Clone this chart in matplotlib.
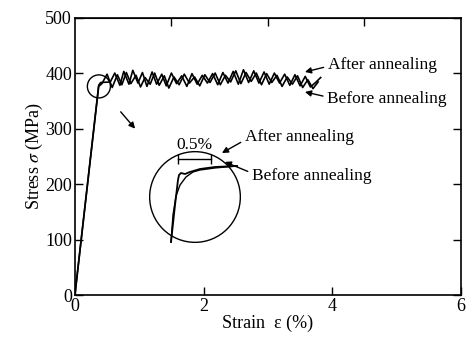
import numpy as np
import matplotlib
matplotlib.use("Agg")
import matplotlib.pyplot as plt
from matplotlib.patches import Ellipse, Circle

plt.rcParams['font.family'] = ['Liberation Serif', 'DejaVu Serif']
plt.rcParams['mathtext.fontset'] = 'stix'

# stress-strain curves (strain %, stress MPa)
after_strain = [0, 0.37, 0.40, 0.55, 0.62, 0.70, 0.76, 0.84, 0.90, 0.98, 1.05, 1.12, 1.20, 1.27,
                1.35, 1.42, 1.50, 1.58, 1.66, 1.74, 1.82, 1.90, 1.98, 2.06, 2.14, 2.22, 2.30, 2.38,
                2.46, 2.54, 2.62, 2.70, 2.78, 2.86, 2.94, 3.02, 3.10, 3.18, 3.26, 3.34, 3.42, 3.50,
                3.58, 3.66, 3.74, 3.82]
after_stress = [0, 378, 383, 384, 400, 378, 403, 380, 405, 382, 401, 376, 402, 380,
                398, 377, 400, 381, 395, 376, 399, 380, 396, 382, 399, 379, 401, 382,
                403, 380, 406, 383, 404, 382, 402, 380, 400, 382, 398, 378, 397, 377,
                394, 375, 383, 392]

before_strain = [0, 0.37, 0.42, 0.50, 0.58, 0.66, 0.73, 0.80, 0.87, 0.95, 1.02, 1.09, 1.17, 1.24,
                 1.31, 1.39, 1.46, 1.54, 1.62, 1.70, 1.78, 1.86, 1.94, 2.02, 2.10, 2.18, 2.26, 2.34,
                 2.42, 2.50, 2.58, 2.66, 2.74, 2.82, 2.90, 2.98, 3.06, 3.14, 3.22, 3.30, 3.38, 3.46,
                 3.54, 3.62, 3.70, 3.78]
before_stress = [0, 376, 381, 398, 374, 397, 379, 401, 381, 396, 375, 392, 380, 400,
                 378, 395, 373, 393, 379, 398, 382, 393, 377, 397, 383, 400, 379, 396,
                 384, 404, 381, 401, 385, 400, 379, 399, 383, 396, 376, 393, 380, 395,
                 374, 388, 372, 384]

# magnified yield region (inset units)
in_after_x = [0.335, 0.396, 0.441, 0.457, 0.487, 0.548, 0.624, 0.776, 1.005, 1.339]
in_after_y = [0.015, 0.578, 0.959, 1.035, 1.065, 1.050, 1.081, 1.126, 1.157, 1.172]
in_before_x = [0.335, 0.365, 0.411, 0.472, 0.563, 0.670, 0.776, 1.005, 1.339]
in_before_y = [0.015, 0.426, 0.715, 0.883, 1.005, 1.081, 1.111, 1.142, 1.172]

fig = plt.figure(figsize=(4.68, 3.38), dpi=100)
ax = fig.add_axes([0.160, 0.127, 0.825, 0.821])

ax.plot(after_strain, after_stress, color='black', lw=1.2)
ax.plot(before_strain, before_stress, color='black', lw=1.2)

ax.set_xlim(0, 6)
ax.set_ylim(0, 500)
ax.set_xticks([0, 2, 4, 6])
ax.set_yticks([0, 100, 200, 300, 400, 500])
ax.tick_params(direction='in', length=6, width=1.0, labelsize=13, pad=2,
               right=True)
for s in ax.spines.values():
    s.set_linewidth(1.2)

top = ax.secondary_xaxis('top')
top.set_xticks([1.5, 3, 4.5])
top.set_xticklabels([])
top.tick_params(direction='in', length=6, width=1.0)

ax.set_xlabel("Strain  ε (%)", fontsize=13, labelpad=0)
ax.set_ylabel(r"Stress $\sigma$ (MPa)", fontsize=13, labelpad=0)

# small circle around yield point and arrow to magnified view
ax.add_patch(Ellipse((0.373, 376), 0.358, 41.5, fill=False, lw=1.0, color='black'))
ax.annotate("", xy=(0.964, 296), xytext=(0.684, 334),
            arrowprops=dict(arrowstyle='-|>', color='black', lw=1.0, mutation_scale=9))

arr = dict(arrowstyle='-|>', color='black', lw=1.0, mutation_scale=9, shrinkA=1, shrinkB=0)
ax.annotate("After annealing", xy=(3.575, 402), xytext=(3.93, 415), fontsize=12.5,
            va='center', ha='left', arrowprops=dict(arr, relpos=(0, 0.4)))
ax.annotate("Before annealing", xy=(3.575, 366), xytext=(3.92, 354), fontsize=12.5,
            va='center', ha='left', arrowprops=dict(arr, relpos=(0, 0.6)))

ax.annotate("After annealing", xy=(2.285, 256), xytext=(2.64, 285), fontsize=12.5,
            va='center', ha='left', arrowprops=dict(arr, relpos=(0, 0.3)))
ax.annotate("Before annealing", xy=(2.33, 240), xytext=(2.75, 214), fontsize=12.5,
            va='center', ha='left', arrowprops=dict(arr, relpos=(0, 0.7)))

# scale bar
ax.plot([1.60, 2.11], [245.5, 245.5], color='black', lw=1.0, marker='|', markersize=7)
ax.text(1.865, 271, "0.5%", fontsize=12.5, ha='center', va='center')

# inset with magnified curves
ins = fig.add_axes([149 / 468, (338 - 243) / 338, 92 / 468, 92 / 338])
ins.set_xlim(0, 1.4)
ins.set_ylim(0, 1.4)
ins.axis('off')
ins.add_patch(Circle((0.7, 0.7), 0.69, fill=False, lw=1.0, color='black'))
ins.plot(in_after_x, in_after_y, color='black', lw=1.3)
ins.plot(in_before_x, in_before_y, color='black', lw=1.0)

fig.savefig("out.png", dpi=100)
